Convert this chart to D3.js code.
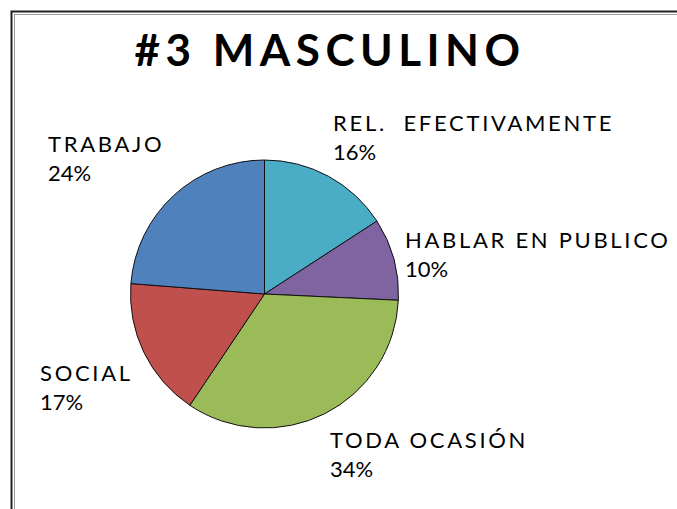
<!DOCTYPE html>
<html><head><meta charset="utf-8">
<script src="https://cdn.jsdelivr.net/npm/d3@7"></script>
<style>body{margin:0;background:#fff}svg{display:block}</style>
</head><body>
<script>
const categories = ["REL.  EFECTIVAMENTE","HABLAR EN PUBLICO","TODA OCASIÓN","SOCIAL","TRABAJO"];
const values = [16,10,34,17,24];
const pctLabels = ["16%","10%","34%","17%","24%"];
const colors = ["#4bacc6","#8064a2","#9bbb59","#c0504d","#4f81bd"];
const title = "#3 MASCULINO";

const W=677,H=509;
const svg=d3.select("body").append("svg").attr("width",W).attr("height",H);
svg.append("rect").attr("width",W).attr("height",H).attr("fill","#fff");
// frame
svg.append("rect").attr("x",11.5).attr("y",11.5).attr("width",W+10).attr("height",H+10).attr("fill","none").attr("stroke","#222").attr("stroke-width",2);
svg.append("rect").attr("x",14.5).attr("y",14.5).attr("width",W+10).attr("height",H+10).attr("fill","none").attr("stroke","#999").attr("stroke-width",1);

svg.append("text").attr("x",330).attr("y",66).attr("text-anchor","middle")
 .attr("font-family","Lato, 'Open Sans', sans-serif").attr("font-weight","bold").attr("font-size",44)
 .attr("letter-spacing",5.5).attr("fill","#000").text(title);

const cx=264.5,cy=294,r=134;
const pie=d3.pie().sort(null).value(d=>d)(values);
const arc=d3.arc().innerRadius(0).outerRadius(r);
const g=svg.append("g").attr("transform",`translate(${cx},${cy})`);
g.selectAll("path").data(pie).join("path").attr("d",arc)
 .attr("fill",(d,i)=>colors[i]).attr("stroke","#111").attr("stroke-width",1);

// label anchors
const lx=[333,405,330,40,48];
const ly=[131,248,448,381,152];
const lab=svg.append("g").attr("font-family","Lato, 'Open Sans', sans-serif").attr("font-size",22).attr("fill","#000");
categories.forEach((c,i)=>{
  lab.append("text").attr("x",lx[i]).attr("y",ly[i]).attr("letter-spacing",2.7).attr("xml:space","preserve").style("white-space","pre").text(c);
  lab.append("text").attr("x",lx[i]).attr("y",ly[i]+29).text(pctLabels[i]);
});
</script>
</body></html>
